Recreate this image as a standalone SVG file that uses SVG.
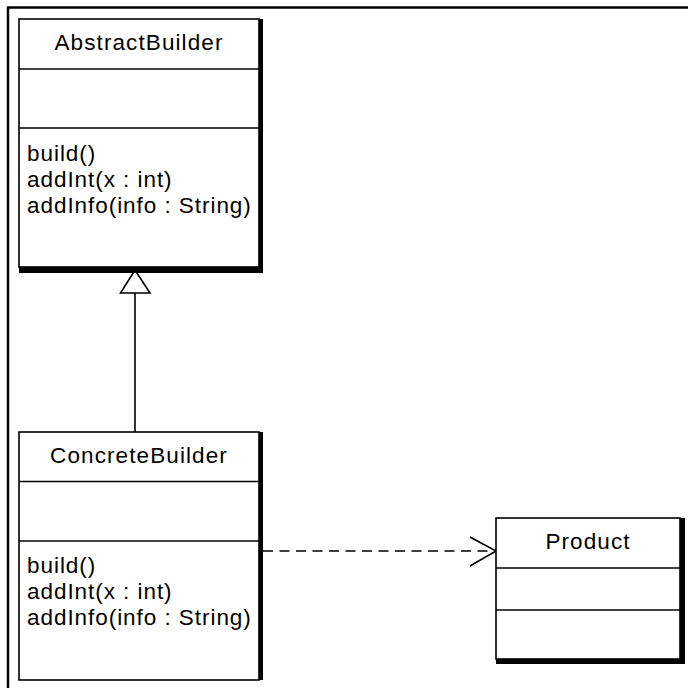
<svg xmlns="http://www.w3.org/2000/svg" width="688" height="688" viewBox="0 0 688 688">
<style>
.box{fill:#fff;stroke:#000;stroke-width:1.6}
.div{stroke:#000;stroke-width:1.5}
.shadow{fill:#000}
text{font-family:"Liberation Sans",Arial,sans-serif;font-size:22.5px;fill:#000;letter-spacing:0.95px}
.title{text-anchor:middle;letter-spacing:1.1px}
.conn{fill:none;stroke:#000;stroke-width:1.6}
</style>
<rect width="688" height="688" fill="#fff"/>
<path d="M8,688 V7.5 H688" fill="none" stroke="#000" stroke-width="2.5"/>
<g id="connectors">
<line class="conn" x1="135" y1="293" x2="135" y2="432"/>
<polygon points="135,270 120.5,293 150,293" fill="#fff" stroke="#000" stroke-width="1.6"/>
<line class="conn" x1="263" y1="551" x2="494" y2="551" stroke-dasharray="10,6.5"/>
<polyline class="conn" points="470,537 496,551 470,566" stroke-width="2"/>
</g>
<g id="AbstractBuilder">
<rect class="shadow" x="19" y="19" width="244" height="254"/>
<rect class="box" x="19" y="19" width="240" height="248"/>
<line class="div" x1="19" y1="69" x2="259" y2="69"/>
<line class="div" x1="19" y1="128" x2="259" y2="128"/>
<text class="title" x="139" y="50">AbstractBuilder</text>
<text x="27" y="161">build()</text>
<text x="27" y="187">addInt(x : int)</text>
<text x="27" y="213">addInfo(info : String)</text>
</g>
<g id="ConcreteBuilder">
<rect class="shadow" x="19" y="432" width="244" height="248"/>
<rect class="box" x="19" y="432" width="240" height="248"/>
<line class="div" x1="19" y1="481.5" x2="259" y2="481.5"/>
<line class="div" x1="19" y1="541" x2="259" y2="541"/>
<text class="title" x="139" y="463">ConcreteBuilder</text>
<text x="27" y="573">build()</text>
<text x="27" y="599">addInt(x : int)</text>
<text x="27" y="625">addInfo(info : String)</text>
</g>
<g id="Product">
<rect class="shadow" x="496" y="518" width="189" height="146"/>
<rect class="box" x="496" y="518" width="184" height="141"/>
<line class="div" x1="496" y1="568" x2="680" y2="568"/>
<line class="div" x1="496" y1="610" x2="680" y2="610"/>
<text class="title" x="588" y="549">Product</text>
</g>
</svg>
